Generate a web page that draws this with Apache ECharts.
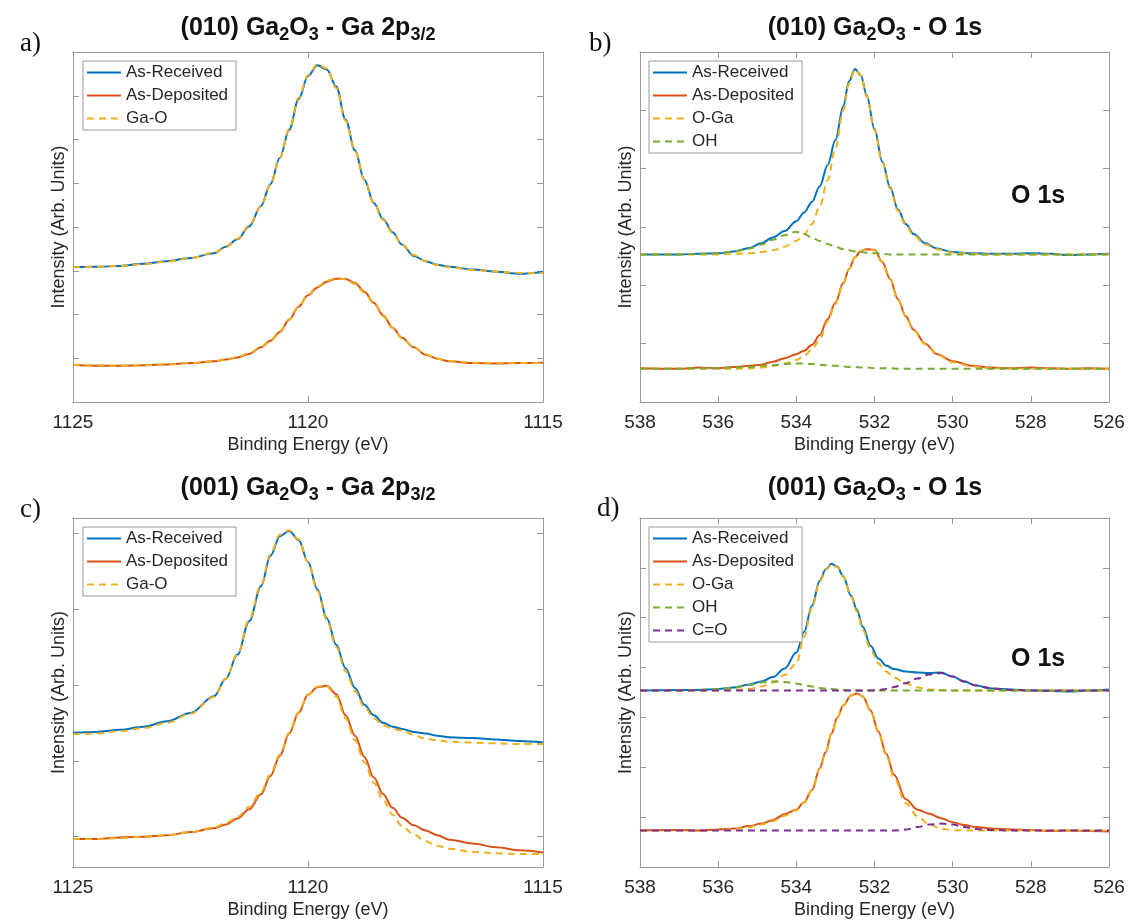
<!DOCTYPE html>
<html>
<head>
<meta charset="utf-8">
<title>Ga2O3 XPS</title>
<script src="https://cdn.jsdelivr.net/npm/echarts@6/dist/echarts.min.js"></script>
<style>
  html,body{margin:0;padding:0;background:#fff;}
  #main{width:1132px;height:923px;}
</style>
</head>
<body>
<div id="main"></div>
<script>
// binding energy grids (eV)
var energyGa = [1125,1124.5,1124,1123.5,1123,1122.5,1122,1121.75,1121.5,1121.25,1121,1120.8,1120.6,1120.4,1120.2,1120,1119.8,1119.6,1119.4,1119.2,1119,1118.8,1118.6,1118.4,1118.2,1118,1117.75,1117.5,1117.25,1117,1116.5,1116,1115.5,1115];
var energyOb = [538,537,536.5,536,535.6,535.2,534.9,534.6,534.3,534,533.8,533.6,533.4,533.2,533,532.8,532.65,532.5,532.35,532.2,532,531.8,531.6,531.4,531.2,531,530.7,530.4,530,529.5,529,528.5,528,527.5,527,526.5,526];
var energyOd = [538,537,536.5,536,535.6,535.2,534.9,534.6,534.3,534,533.8,533.6,533.4,533.25,533.1,532.95,532.8,532.6,532.45,532.3,532.1,531.9,531.7,531.5,531.2,530.9,530.6,530.3,530,529.7,529.4,529,528.5,528,527.5,527,526.5,526];

// a) (010) Ga 2p3/2
var receivedA = [3.08,3.09,3.11,3.16,3.22,3.29,3.40,3.55,3.72,4.02,4.48,4.98,5.58,6.22,6.92,7.45,7.70,7.60,7.21,6.45,5.75,5.08,4.55,4.18,3.88,3.60,3.34,3.22,3.14,3.09,3.03,2.98,2.93,2.97];
var gaoA_up = [3.08,3.09,3.11,3.15,3.21,3.29,3.41,3.54,3.73,4.03,4.47,4.97,5.58,6.24,6.95,7.47,7.72,7.62,7.18,6.43,5.74,5.07,4.54,4.16,3.86,3.60,3.36,3.22,3.13,3.08,3.02,2.98,2.95,2.95];
var depositedA = [0.85,0.83,0.83,0.84,0.86,0.89,0.93,0.97,1.02,1.10,1.25,1.40,1.60,1.88,2.18,2.44,2.62,2.75,2.82,2.81,2.72,2.52,2.27,1.98,1.70,1.47,1.25,1.08,0.99,0.93,0.89,0.88,0.89,0.90];
var gaoA_down = [0.85,0.84,0.83,0.84,0.86,0.89,0.93,0.97,1.03,1.12,1.26,1.41,1.62,1.89,2.18,2.45,2.64,2.77,2.83,2.80,2.70,2.50,2.25,1.96,1.69,1.46,1.25,1.09,0.99,0.94,0.90,0.89,0.89,0.90];

// b) (010) O 1s
var receivedB = [2.53,2.53,2.54,2.55,2.58,2.64,2.72,2.82,2.93,3.10,3.25,3.43,3.70,4.06,4.49,5.07,5.50,5.71,5.60,5.26,4.68,4.12,3.68,3.30,3.05,2.88,2.72,2.63,2.57,2.55,2.54,2.54,2.55,2.54,2.52,2.53,2.54];
var ogaB_up = [2.53,2.53,2.53,2.53,2.54,2.55,2.57,2.60,2.66,2.76,2.88,3.05,3.35,3.80,4.35,5.00,5.46,5.70,5.60,5.24,4.66,4.10,3.66,3.28,3.03,2.86,2.70,2.62,2.56,2.54,2.53,2.53,2.53,2.53,2.53,2.53,2.53];
var ohB_up = [2.53,2.53,2.54,2.55,2.58,2.63,2.70,2.78,2.86,2.92,2.88,2.82,2.76,2.71,2.66,2.62,2.60,2.58,2.57,2.56,2.55,2.54,2.53,2.53,2.53,2.53,2.53,2.53,2.53,2.53,2.53,2.53,2.53,2.53,2.53,2.53,2.53];
var depositedB = [0.58,0.57,0.59,0.58,0.60,0.62,0.64,0.69,0.75,0.82,0.88,0.98,1.15,1.42,1.70,2.04,2.28,2.48,2.59,2.62,2.61,2.40,2.11,1.76,1.47,1.24,1.00,0.82,0.70,0.62,0.59,0.58,0.59,0.58,0.57,0.58,0.57];
var ogaB_down = [0.57,0.57,0.57,0.57,0.57,0.58,0.59,0.62,0.66,0.72,0.79,0.90,1.08,1.38,1.68,2.03,2.28,2.48,2.59,2.62,2.60,2.39,2.10,1.75,1.46,1.23,0.99,0.81,0.68,0.61,0.58,0.57,0.57,0.57,0.57,0.57,0.57];
var ohB_down = [0.57,0.57,0.58,0.58,0.59,0.60,0.62,0.63,0.65,0.66,0.66,0.65,0.64,0.63,0.62,0.61,0.60,0.60,0.59,0.59,0.58,0.58,0.58,0.57,0.57,0.57,0.57,0.57,0.57,0.57,0.57,0.57,0.57,0.57,0.57,0.57,0.57];

// c) (001) Ga 2p3/2
var receivedC = [1.37,1.38,1.41,1.45,1.52,1.63,1.85,2.08,2.40,2.84,3.30,3.70,3.96,4.03,3.91,3.62,3.26,2.88,2.53,2.22,1.96,1.74,1.60,1.50,1.45,1.42,1.38,1.36,1.33,1.31,1.30,1.28,1.26,1.24];
var gaoC_up = [1.35,1.36,1.39,1.43,1.50,1.62,1.84,2.08,2.41,2.86,3.32,3.72,3.98,4.04,3.92,3.62,3.24,2.86,2.50,2.18,1.92,1.71,1.56,1.47,1.42,1.40,1.34,1.29,1.27,1.25,1.24,1.23,1.22,1.22];
var depositedC = [-0.03,-0.03,-0.01,0.00,0.02,0.06,0.11,0.16,0.24,0.36,0.56,0.80,1.06,1.36,1.63,1.87,1.97,1.99,1.88,1.60,1.33,1.05,0.78,0.56,0.38,0.25,0.15,0.08,0.02,-0.04,-0.09,-0.14,-0.18,-0.21];
var gaoC_down = [-0.03,-0.03,-0.02,0.00,0.02,0.06,0.12,0.18,0.26,0.39,0.59,0.82,1.08,1.37,1.64,1.87,1.98,1.98,1.85,1.56,1.27,0.98,0.71,0.48,0.29,0.14,0.03,-0.06,-0.12,-0.16,-0.20,-0.22,-0.23,-0.23];

// d) (001) O 1s
var receivedD = [3.54,3.55,3.55,3.57,3.60,3.66,3.72,3.81,3.98,4.30,4.72,5.24,5.74,5.97,6.08,6.02,5.83,5.44,5.16,4.82,4.44,4.18,4.04,3.97,3.92,3.90,3.89,3.90,3.82,3.72,3.64,3.58,3.56,3.54,3.53,3.52,3.54,3.56];
var ogaD_up = [3.54,3.54,3.54,3.54,3.55,3.57,3.62,3.70,3.85,4.08,4.62,5.20,5.72,5.96,6.07,6.01,5.82,5.42,5.12,4.76,4.36,4.08,3.92,3.80,3.68,3.60,3.56,3.55,3.54,3.54,3.54,3.54,3.54,3.54,3.54,3.54,3.54,3.54];
var ohD_up = [3.54,3.54,3.55,3.57,3.60,3.65,3.70,3.72,3.71,3.68,3.65,3.62,3.59,3.58,3.57,3.56,3.55,3.54,3.54,3.54,3.54,3.54,3.54,3.54,3.54,3.54,3.54,3.54,3.54,3.54,3.54,3.54,3.54,3.54,3.54,3.54,3.54,3.54];
var coD_up = [3.54,3.54,3.54,3.54,3.54,3.54,3.54,3.54,3.54,3.54,3.54,3.54,3.54,3.54,3.54,3.54,3.54,3.54,3.54,3.54,3.54,3.55,3.57,3.61,3.69,3.78,3.86,3.89,3.82,3.72,3.64,3.58,3.55,3.54,3.54,3.54,3.54,3.54];
var depositedD = [0.73,0.74,0.73,0.75,0.77,0.82,0.87,0.94,1.06,1.15,1.30,1.54,1.98,2.30,2.68,3.00,3.24,3.44,3.48,3.42,3.14,2.72,2.27,1.85,1.36,1.15,1.07,0.98,0.90,0.84,0.80,0.77,0.75,0.74,0.72,0.73,0.72,0.71];
var ogaD_down = [0.73,0.73,0.73,0.74,0.76,0.80,0.85,0.92,1.03,1.14,1.29,1.54,1.97,2.30,2.68,3.00,3.24,3.44,3.48,3.42,3.13,2.70,2.24,1.79,1.28,1.02,0.85,0.77,0.74,0.73,0.73,0.73,0.73,0.73,0.73,0.73,0.73,0.73];
var coD_down = [0.73,0.73,0.73,0.73,0.73,0.73,0.73,0.73,0.73,0.73,0.73,0.73,0.73,0.73,0.73,0.73,0.73,0.73,0.73,0.73,0.73,0.73,0.73,0.73,0.75,0.80,0.85,0.87,0.85,0.80,0.76,0.74,0.73,0.73,0.73,0.73,0.73,0.73];

var gaTicks = [1125,1120,1115];
var oTicks = [538,536,534,532,530,528,526];

var FF = '"Liberation Sans", Arial, Helvetica, sans-serif';
var BOX = '#9a9a9a';
var TXT = '#262626';
var COL = {'As-Received':'#0072BD','As-Deposited':'#D95319','Ga-O':'#EDB120','O-Ga':'#EDB120','OH':'#77AC30','C=O':'#7E2F8E'};

var grids = [
    {left:73, top:52, width:470, height:350},
    {left:640, top:52, width:469, height:350},
    {left:73, top:518, width:470, height:349},
    {left:640, top:518, width:469, height:349}
];
var yRange = [[0,8,[1,2,3,4,5,6,7]],[0,6,[1,2,3,4,5]],[-0.4,4.2,[0,1,2,3,4]],[0,7,[1,2,3,4,5,6]]];

function pairs(xs,ys){
    return xs.map(function(x,i){ return [x,ys[i]]; });
}

var xAxes=[], yAxes=[];
grids.forEach(function(g,i){
    var isGa = (i%2==0);
    var ticks = isGa ? gaTicks : oTicks;
    var xmin = Math.min.apply(null,ticks), xmax = Math.max.apply(null,ticks);
    [ 'bottom','top' ].forEach(function(pos){
        xAxes.push({
            type:'value', gridIndex:i, position:pos, inverse:true,
            min:xmin, max:xmax, interval:ticks[0]-ticks[1],
            name: pos=='bottom' ? 'Binding Energy (eV)' : '',
            nameLocation:'middle', nameGap:34,
            nameTextStyle:{fontFamily:FF, fontSize:18, color:TXT},
            axisLine:{show:true, onZero:false, lineStyle:{color:BOX, width:1}},
            axisTick:{show:true, inside:true, length:6, lineStyle:{color:BOX}},
            axisLabel:{show: pos=='bottom', margin:11, fontFamily:FF, fontSize:19, color:TXT,
                formatter:function(v){ return String(v); }},
            splitLine:{show:false}
        });
    });
    var yr = yRange[i];
    [ 'left','right' ].forEach(function(pos){
        yAxes.push({
            type:'value', gridIndex:i, position:pos,
            min:yr[0], max:yr[1],
            name: pos=='left' ? 'Intensity (Arb. Units)' : '',
            nameLocation:'middle', nameGap:5,
            nameTextStyle:{fontFamily:FF, fontSize:18, color:TXT},
            axisLine:{show:true, onZero:false, lineStyle:{color:BOX, width:1}},
            axisTick:{show:true, inside:true, length:6, customValues:yr[2], lineStyle:{color:BOX}},
            axisLabel:{show:false, customValues:yr[2]},
            splitLine:{show:false}
        });
    });
});

var series=[];
function addLine(name, xs, ys, panel, dashed){
    series.push({
        type:'line', name:name,
        xAxisIndex:panel*2, yAxisIndex:panel*2,
        data:pairs(xs,ys),
        symbol:'none', showSymbol:false,
        smooth:0.35, smoothMonotone:'x',
        silent:true,
        z: dashed ? 3 : 2,
        lineStyle:{color:COL[name], width:2, type: dashed ? [7,5] : 'solid'},
        itemStyle:{color:COL[name]}
    });
}

addLine('As-Received', energyGa, receivedA, 0, false);
addLine('As-Deposited', energyGa, depositedA, 0, false);
addLine('Ga-O', energyGa, gaoA_up, 0, true);
addLine('Ga-O', energyGa, gaoA_down, 0, true);

addLine('As-Received', energyOb, receivedB, 1, false);
addLine('As-Deposited', energyOb, depositedB, 1, false);
addLine('O-Ga', energyOb, ogaB_up, 1, true);
addLine('O-Ga', energyOb, ogaB_down, 1, true);
addLine('OH', energyOb, ohB_up, 1, true);
addLine('OH', energyOb, ohB_down, 1, true);

addLine('As-Received', energyGa, receivedC, 2, false);
addLine('As-Deposited', energyGa, depositedC, 2, false);
addLine('Ga-O', energyGa, gaoC_up, 2, true);
addLine('Ga-O', energyGa, gaoC_down, 2, true);

addLine('As-Received', energyOd, receivedD, 3, false);
addLine('As-Deposited', energyOd, depositedD, 3, false);
addLine('O-Ga', energyOd, ogaD_up, 3, true);
addLine('O-Ga', energyOd, ogaD_down, 3, true);
addLine('OH', energyOd, ohD_up, 3, true);
addLine('C=O', energyOd, coD_up, 3, true);
addLine('C=O', energyOd, coD_down, 3, true);

function legendAt(left, top, names){
    return {
        orient:'vertical', left:left, top:top, data:names,
        itemWidth:34, itemHeight:14, itemGap:6,
        selectedMode:false,
        itemStyle:{opacity:0},
        backgroundColor:'#fff', borderColor:BOX, borderWidth:1, borderRadius:0,
        padding:[3,8,3,3],
        textStyle:{fontFamily:FF, fontSize:17, color:TXT}
    };
}

var richT = {
    m:{fontFamily:FF, fontSize:25, fontWeight:'bold', color:'#111', lineHeight:32},
    s:{fontFamily:FF, fontSize:18, fontWeight:'bold', color:'#111', lineHeight:18, verticalAlign:'bottom'}
};
function titleAt(cx, top, text){
    return {text:text, left:cx, top:top, textAlign:'center', padding:0,
        textStyle:{rich:richT}};
}

var option = {
    animation:false,
    backgroundColor:'#fff',
    title:[
        titleAt(308, 12, '{m|(010) Ga}{s|2}{m|O}{s|3}{m| - Ga 2p}{s|3/2}'),
        titleAt(875, 12, '{m|(010) Ga}{s|2}{m|O}{s|3}{m| - O 1s}'),
        titleAt(308, 472, '{m|(001) Ga}{s|2}{m|O}{s|3}{m| - Ga 2p}{s|3/2}'),
        titleAt(875, 472, '{m|(001) Ga}{s|2}{m|O}{s|3}{m| - O 1s}')
    ],
    legend:[
        legendAt(83, 61, ['As-Received','As-Deposited','Ga-O']),
        legendAt(649, 61, ['As-Received','As-Deposited','O-Ga','OH']),
        legendAt(83, 527, ['As-Received','As-Deposited','Ga-O']),
        legendAt(649, 527, ['As-Received','As-Deposited','O-Ga','OH','C=O'])
    ],
    grid:grids,
    xAxis:xAxes,
    yAxis:yAxes,
    series:series,
    graphic:[
        {type:'text', left:20, top:30, style:{text:'a)', fontFamily:'"Liberation Serif", serif', fontSize:27, fill:'#111'}},
        {type:'text', left:589, top:30, style:{text:'b)', fontFamily:'"Liberation Serif", serif', fontSize:27, fill:'#111'}},
        {type:'text', left:20, top:496, style:{text:'c)', fontFamily:'"Liberation Serif", serif', fontSize:27, fill:'#111'}},
        {type:'text', left:597, top:495, style:{text:'d)', fontFamily:'"Liberation Serif", serif', fontSize:27, fill:'#111'}},
        {type:'text', left:1011, top:184, style:{text:'O 1s', fontFamily:FF, fontSize:25, fontWeight:'bold', fill:'#111'}},
        {type:'text', left:1011, top:647, style:{text:'O 1s', fontFamily:FF, fontSize:25, fontWeight:'bold', fill:'#111'}}
    ]
};

var myChart = echarts.init(document.getElementById('main'));
myChart.setOption(option);
</script>
</body>
</html>
